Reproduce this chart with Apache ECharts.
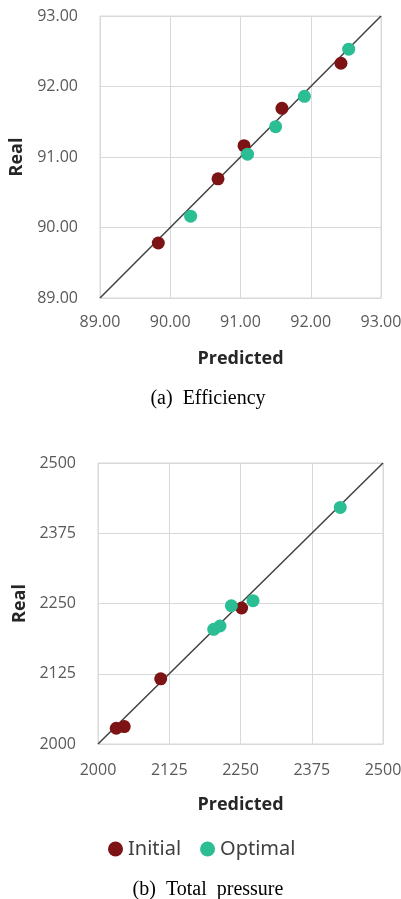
<!DOCTYPE html>
<html>
<head>
<meta charset="utf-8">
<script src="https://cdn.jsdelivr.net/npm/echarts@6/dist/echarts.min.js"></script>
<style>
  html, body { margin: 0; padding: 0; background: #fff; }
  #chart { width: 401px; height: 899px; }
</style>
</head>
<body>
<div id="chart"></div>
<script>
// Efficiency: predicted vs. real
const effInitialPred = [89.83, 90.68, 91.05, 91.59, 92.43];
const effInitialReal = [89.78, 90.69, 91.16, 91.69, 92.33];
const effOptimalPred = [90.29, 91.10, 91.50, 91.91, 92.54];
const effOptimalReal = [90.16, 91.04, 91.43, 91.86, 92.53];
const effTicks = [89, 90, 91, 92, 93];

// Total pressure: predicted vs. real
const tpInitialPred = [2032, 2046, 2110, 2252];
const tpInitialReal = [2028, 2031, 2116, 2242];
const tpOptimalPred = [2203, 2214, 2234, 2272, 2425];
const tpOptimalReal = [2204, 2210, 2246, 2255, 2421];
const tpTicks = [2000, 2125, 2250, 2375, 2500];

const seriesNames = ['Initial', 'Optimal'];
const colorInitial = '#7d1315';
const colorOptimal = '#2bbd93';

const pairs = (xs, ys) => xs.map((x, i) => [x, ys[i]]);

const tickFont = { color: '#595959', fontSize: 16, fontFamily: 'Open Sans' };
const nameFont = { color: '#262626', fontSize: 18, fontWeight: 'bold', fontFamily: 'Open Sans' };
const gridColor = '#d9d9d9';

function valueAxis(gridIndex, ticks, digits, extra) {
  return Object.assign({
    type: 'value',
    gridIndex,
    min: ticks[0],
    max: ticks[ticks.length - 1],
    interval: ticks[1] - ticks[0],
    axisLine: { show: true, lineStyle: { color: gridColor, width: 1 } },
    axisTick: { show: false },
    splitLine: { show: true, lineStyle: { color: gridColor, width: 1 } },
    nameLocation: 'middle',
    nameTextStyle: nameFont
  }, extra, {
    axisLabel: Object.assign({ formatter: v => v.toFixed(digits) }, tickFont, extra.axisLabel)
  });
}

function diagonal(xi, ticks) {
  const lo = ticks[0], hi = ticks[ticks.length - 1];
  return {
    type: 'line',
    xAxisIndex: xi,
    yAxisIndex: xi,
    data: [[lo, lo], [hi, hi]],
    symbol: 'none',
    silent: true,
    lineStyle: { color: '#404040', width: 1.5 },
    z: 1
  };
}

function scatter(name, xi, data, color) {
  return {
    type: 'scatter',
    name,
    xAxisIndex: xi,
    yAxisIndex: xi,
    data,
    symbol: 'circle',
    symbolSize: 13,
    itemStyle: { color, opacity: 1 },
    z: 3
  };
}

const captionStyle = { fontFamily: 'Liberation Serif', fontWeight: 'normal', fontSize: 20, color: '#000' };

const chart = echarts.init(document.getElementById('chart'), null, { renderer: 'canvas' });

chart.setOption({
  animation: false,
  backgroundColor: '#ffffff',
  title: [
    { text: '(a)  Efficiency', left: 203, top: 384, textAlign: 'center', textStyle: captionStyle },
    { text: '(b)  Total  pressure', left: 203, top: 875, textAlign: 'center', textStyle: captionStyle }
  ],
  legend: {
    data: seriesNames,
    left: 108, top: 839,
    padding: 0,
    icon: 'circle',
    itemWidth: 15, itemHeight: 15, itemGap: 19,
    textStyle: { color: '#404040', fontSize: 20, fontFamily: 'Noto Sans' }
  },
  grid: [
    { left: 100, top: 16, width: 281, height: 282, show: true, borderColor: gridColor, borderWidth: 1, outerBoundsMode: 'none', containLabel: false },
    { left: 98, top: 463, width: 285, height: 281, show: true, borderColor: gridColor, borderWidth: 1, outerBoundsMode: 'none', containLabel: false }
  ],
  xAxis: [
    valueAxis(0, effTicks, 2, { name: 'Predicted', nameGap: 52, axisLabel: { margin: 16 } }),
    valueAxis(1, tpTicks, 0, { name: 'Predicted', nameGap: 52, axisLabel: { margin: 18 } })
  ],
  yAxis: [
    valueAxis(0, effTicks, 2, { name: 'Real', nameGap: 70, axisLabel: { margin: 22 } }),
    valueAxis(1, tpTicks, 0, { name: 'Real', nameGap: 68, axisLabel: { margin: 22 } })
  ],
  series: [
    diagonal(0, effTicks),
    scatter(seriesNames[0], 0, pairs(effInitialPred, effInitialReal), colorInitial),
    scatter(seriesNames[1], 0, pairs(effOptimalPred, effOptimalReal), colorOptimal),
    diagonal(1, tpTicks),
    scatter(seriesNames[0], 1, pairs(tpInitialPred, tpInitialReal), colorInitial),
    scatter(seriesNames[1], 1, pairs(tpOptimalPred, tpOptimalReal), colorOptimal)
  ]
});
</script>
</body>
</html>
